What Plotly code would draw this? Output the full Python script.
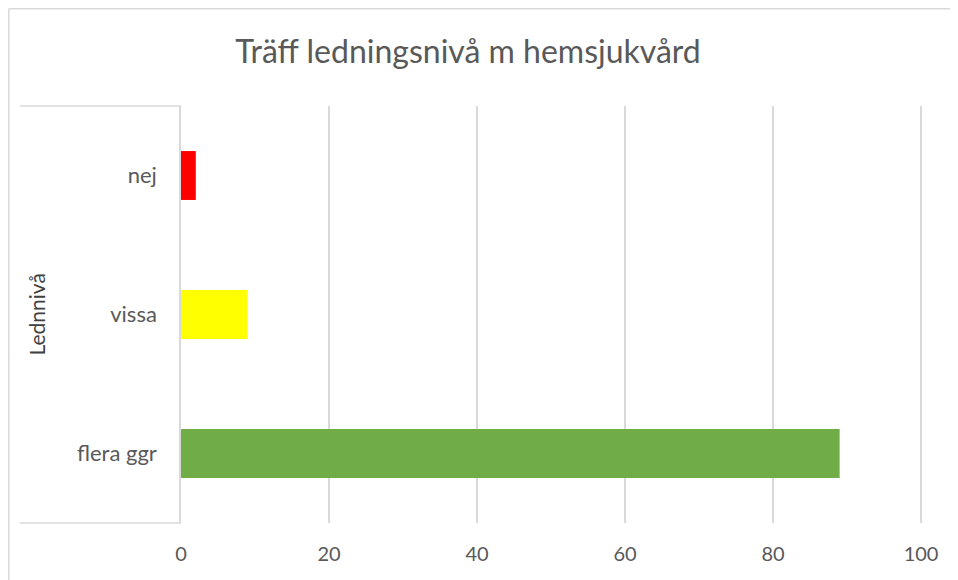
import plotly.graph_objects as go

categories = ["nej", "vissa", "flera ggr"]
values = [2, 9, 89]
bar_colors = ["#FF0000", "#FFFF00", "#70AD47"]
x_ticks = [0, 20, 40, 60, 80, 100]
title_text = "Träff ledningsnivå m hemsjukvård"
y_title = "Lednnivå"

X_MAX = 100.4  # a little beyond 100 so the last gridline is drawn

# page offset of the figure (body margin) in the browser
OFF = 8
W, H = 958 - OFF, 580 - OFF
# plot area in page pixels: x 181..(181 + 7.4 px per unit), y 106..523
right_px = 181 + 7.4 * X_MAX
L, R, T, B = 181 - OFF, 958 - right_px, 106 - OFF, 580 - 523
pw, ph = W - L - R, H - T - B

def px_x(p):
    return (p - OFF - L) / pw

def px_y(p):
    return (H - B - (p - OFF)) / ph

grid = "#d9d9d9"
txt = "#595959"
font = "Lato"

fig = go.Figure(go.Bar(
    y=categories, x=values, orientation="h",
    marker=dict(color=bar_colors, line=dict(width=0)),
    hoverinfo="skip",
))

shapes = [
    dict(type="line", xref="paper", yref="paper", x0=px_x(20), x1=0, y0=1, y1=1,
         line=dict(color=grid, width=1.5)),
    dict(type="line", xref="paper", yref="paper", x0=px_x(20), x1=0, y0=0, y1=0,
         line=dict(color=grid, width=1.5)),
    dict(type="line", xref="paper", yref="paper", x0=px_x(8.8), x1=px_x(8.8), y0=px_y(8.8), y1=px_y(600),
         line=dict(color=grid, width=1.5)),
    dict(type="line", xref="paper", yref="paper", x0=px_x(8.8), x1=px_x(980), y0=px_y(8.8), y1=px_y(8.8),
         line=dict(color=grid, width=1.5)),
]

fig.update_layout(
    width=W, height=H,
    margin=dict(l=L, r=R, t=T, b=B),
    paper_bgcolor="white", plot_bgcolor="white",
    showlegend=False,
    bargap=0.648,
    font=dict(family=font, color=txt),
    title=dict(text=title_text, x=(468 - OFF) / W, xref="container", xanchor="center",
               y=1 - (52 - OFF) / H, yref="container", yanchor="middle",
               font=dict(family=font, size=32, color=txt)),
    xaxis=dict(range=[0, X_MAX], tickvals=x_ticks, ticktext=[str(v) for v in x_ticks],
               showgrid=True, gridcolor=grid, gridwidth=1.5, zeroline=False,
               showline=False, tickfont=dict(size=20, color=txt), ticklabelstandoff=17,
               fixedrange=True),
    yaxis=dict(categoryorder="array", categoryarray=categories, autorange="reversed",
               showgrid=False, zeroline=False, showline=True, linecolor=grid, linewidth=1.5,
               tickfont=dict(size=22, color=txt), ticklabelstandoff=18, fixedrange=True),
    shapes=shapes,
    annotations=[dict(text=y_title, xref="paper", yref="paper", x=px_x(37), y=0.5,
                      textangle=-90, showarrow=False, xanchor="center", yanchor="middle",
                      font=dict(family=font, size=21, color="#404040"))],
)

fig.write_html("out.html")
